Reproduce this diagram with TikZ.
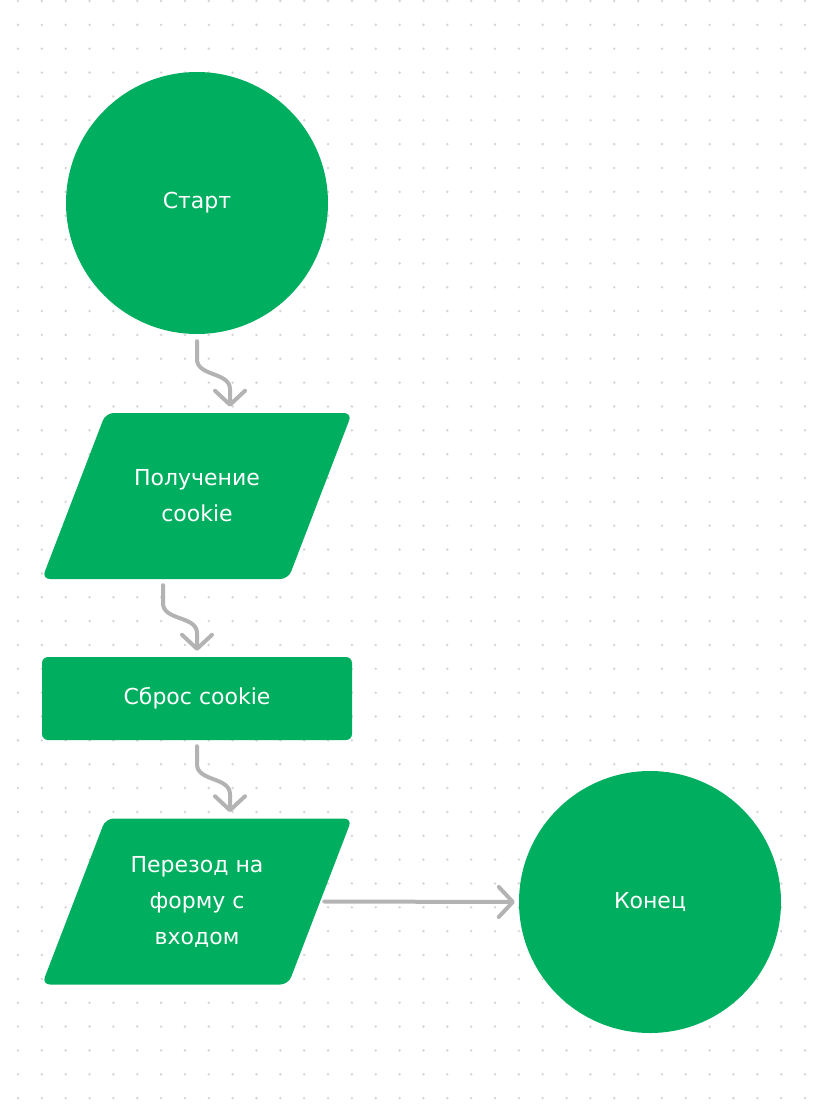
\documentclass[tikz,border=0pt]{standalone}
\usepackage{fontspec}
\setmainfont{DejaVu Sans}
\usetikzlibrary{shapes.geometric,arrows.meta}
\definecolor{flowgreen}{RGB}{0,174,95}
\definecolor{linkgray}{RGB}{179,179,179}
\definecolor{dotgray}{RGB}{214,214,214}

\begin{document}
\begin{tikzpicture}[x=1pt,y=1pt]
\tikzset{
  boxtext/.style={text=white,align=center,font=\fontsize{22}{36}\selectfont},
  terminal/.style={circle,fill=flowgreen,minimum size=262pt,inner sep=0pt,boxtext},
  io/.style={trapezium,trapezium left angle=69,trapezium right angle=111,
    trapezium stretches body=true,text height=166pt,text depth=0pt,
    minimum width=310pt,inner sep=0pt,rounded corners=8pt,fill=flowgreen},
  process/.style={rectangle,rounded corners=6pt,minimum width=310pt,
    minimum height=83pt,inner sep=0pt,fill=flowgreen,boxtext},
  link/.style={draw=linkgray,line width=4pt,line cap=round,line join=round,
    -{Straight Barb[length=14pt,width=30pt,round]}}
}
\useasboundingbox (0,0) rectangle (820,-1106);
\foreach \i in {0,...,33}
  \foreach \j in {0,...,46}
    \fill[dotgray] (18+23.85*\i,-1-23.85*\j) circle (1.4pt);

\node[terminal] (start) at (197,-203) {Старт};
\node[io,label={[boxtext]center:Получение\\cookie}] (get) at (197,-496) {};
\node[process] (reset) at (197,-698.5) {Сброс cookie};
\node[io,label={[boxtext]center:Перезод на\\форму с\\входом}] (login) at (197,-901.5) {};
\node[terminal] (stop) at (650,-902) {Конец};

\draw[link] ([yshift=-7pt]start.south) -- ++(0,-18) to[out=-90,in=90] ++(33,-30)
  -- ([xshift=33pt,yshift=6pt]get.north);
\draw[link] ([xshift=-34pt,yshift=-6pt]get.south) -- ++(0,-18) to[out=-90,in=90] ++(34,-30)
  -- ([yshift=6pt]reset.north);
\draw[link] ([yshift=-6pt]reset.south) -- ++(0,-18) to[out=-90,in=90] ++(33,-30)
  -- ([xshift=33pt,yshift=6pt]login.north);
\draw[link] ([xshift=4pt]login.east) -- ([xshift=-4pt]stop.west);

\end{tikzpicture}
\end{document}
